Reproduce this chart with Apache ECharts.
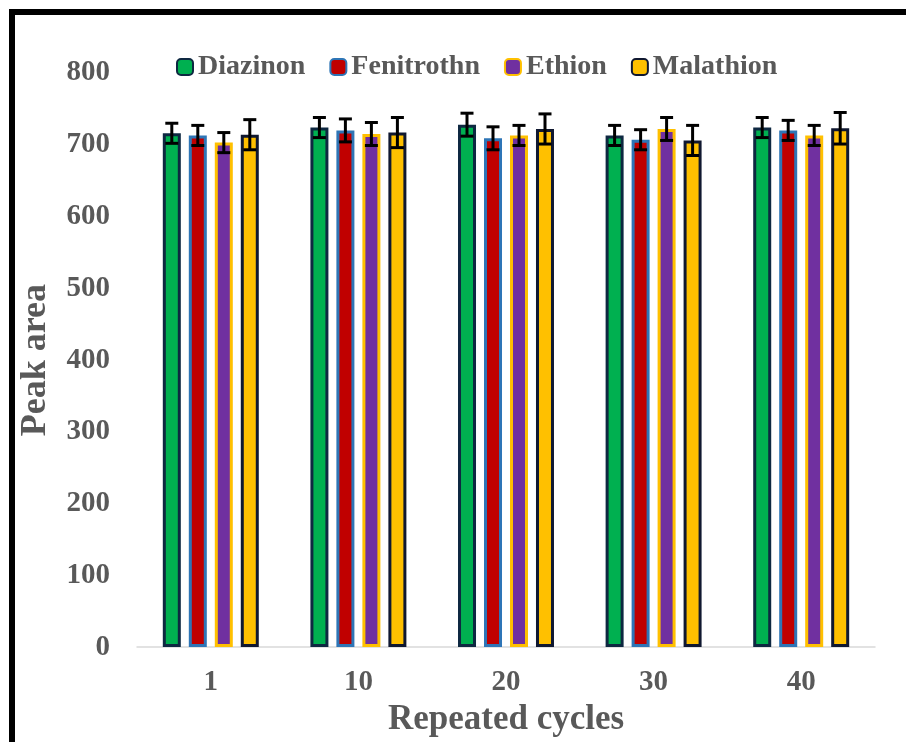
<!DOCTYPE html>
<html><head><meta charset="utf-8">
<script src="https://cdn.jsdelivr.net/npm/echarts@6/dist/echarts.min.js"></script>
<style>
html,body{margin:0;padding:0;background:#fff;overflow:hidden;}
#frame{position:absolute;left:9px;top:9px;width:897px;height:733px;border-top:6px solid #000;border-left:6px solid #000;box-sizing:border-box;pointer-events:none;}
#c{position:absolute;left:0;top:0;width:906px;height:742px;}
</style></head>
<body>
<div id="c"></div>
<div id="frame"></div>
<script>
const categories = ['1','10','20','30','40'];
const seriesNames = ['Diazinon','Fenitrothn','Ethion','Malathion'];
const diazinon   = [716, 724, 728, 713, 724];
const fenitrothn = [713, 720, 709, 707, 720];
const ethion     = [703, 715, 713, 722, 713];
const malathion  = [714, 717, 722, 706, 723];
const diazinonErr   = [14, 14, 16, 14, 14];
const fenitrothnErr = [14, 16, 16, 14, 14];
const ethionErr     = [14, 16, 14, 16, 14];
const malathionErr  = [21, 21, 21, 21, 22];
const yTicks = [0,100,200,300,400,500,600,700,800];

const values = [diazinon, fenitrothn, ethion, malathion];
const errs = [diazinonErr, fenitrothnErr, ethionErr, malathionErr];
const fills = ['#00B050','#C00000','#7030A0','#FFC000'];
const borders = ['#0E2841','#2E75B6','#FFC000','#101830'];
const font = '"Liberation Serif","Times New Roman",serif';
const textColor = '#595959';
const barW = 18, step = 26;

const chart = echarts.init(document.getElementById('c'));
const series = [];
seriesNames.forEach((n,i)=>{
  series.push({
    name:n, type:'bar', barWidth:barW, barGap:'44.4%',
    itemStyle:{color:fills[i], borderColor:borders[i], borderWidth:3},
    data: values[i]
  });
});
seriesNames.forEach((n,i)=>{
  series.push({
    type:'custom', name:n+' err', z:10, silent:true,
    data: values[i].map((v,j)=>[j, v-errs[i][j], v+errs[i][j]]),
    renderItem:function(params, api){
      const lo = api.coord([api.value(0), api.value(1)]);
      const hi = api.coord([api.value(0), api.value(2)]);
      const x = lo[0] + (i-1.5)*step;
      const cap = 6.5;
      const st = {stroke:'#000', lineWidth:3};
      return {type:'group', children:[
        {type:'line', shape:{x1:x,y1:lo[1],x2:x,y2:hi[1]}, style:st},
        {type:'line', shape:{x1:x-cap,y1:lo[1],x2:x+cap,y2:lo[1]}, style:st},
        {type:'line', shape:{x1:x-cap,y1:hi[1],x2:x+cap,y2:hi[1]}, style:st}
      ]};
    }
  });
});

chart.setOption({
  animation:false,
  backgroundColor:'#fff',
  grid:{left:137, right:31, top:73, bottom:85},
  legend:{
    data: seriesNames, top:48, left:171, itemWidth:16, itemHeight:16, itemGap:24,
    textStyle:{fontFamily:font, fontWeight:'bold', fontSize:28, color:textColor}
  },
  xAxis:{
    type:'category', data:categories,
    axisLine:{lineStyle:{color:'#D9D9D9', width:1.5}},
    axisTick:{show:false},
    axisLabel:{fontFamily:font, fontWeight:'bold', fontSize:29, color:textColor, margin:21},
    name:'Repeated cycles', nameLocation:'middle', nameGap:49,
    nameTextStyle:{fontFamily:font, fontWeight:'bold', fontSize:35, color:textColor}
  },
  yAxis:{
    type:'value', min:yTicks[0], max:yTicks[yTicks.length-1], interval:100,
    splitLine:{show:false}, axisLine:{show:false}, axisTick:{show:false},
    axisLabel:{fontFamily:font, fontWeight:'bold', fontSize:29, color:textColor, margin:27},
    name:'Peak area', nameLocation:'middle', nameGap:83, nameRotate:90,
    nameTextStyle:{fontFamily:font, fontWeight:'bold', fontSize:36, color:textColor}
  },
  series: series
});
</script>
</body></html>
